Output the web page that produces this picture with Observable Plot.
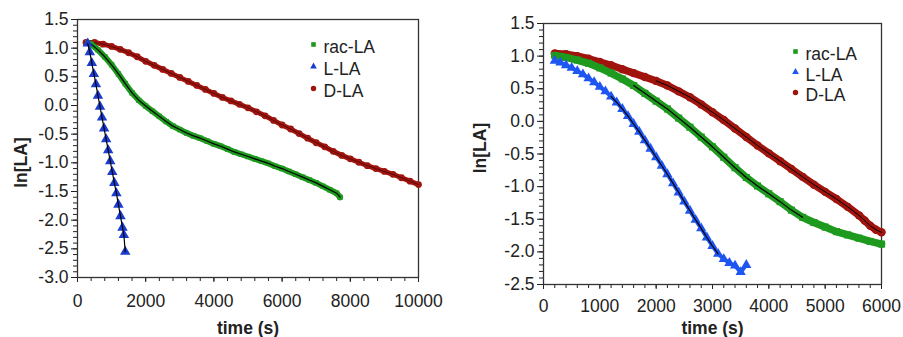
<!DOCTYPE html>
<html><head><meta charset="utf-8">
<script src="https://cdn.jsdelivr.net/npm/d3@7"></script>
<script src="https://cdn.jsdelivr.net/npm/@observablehq/plot@0.6"></script>
<style>
body{margin:0;background:#fff}
#wrap{display:flex;width:903px;height:337px;overflow:hidden}
#wrap svg{display:block;flex:none}
</style>
</head><body><div id="wrap"></div>
<script>
// ---------- Left panel data ----------
const leftRacT = [300,400,600,800,1000,1200,1400,1600,1800,2000,2200,2400,2600,2800,3000,3200,3400,3600,3800,4000,4200,4400,4600,4800,5000,5200,5400,5600,5800,6000,6200,6400,6600,6800,7000,7200,7400,7600,7700];
const leftRacV = [1.09,1.07,0.97,0.85,0.71,0.55,0.38,0.22,0.09,-0.01,-0.10,-0.19,-0.28,-0.36,-0.42,-0.48,-0.53,-0.57,-0.62,-0.67,-0.71,-0.76,-0.81,-0.85,-0.89,-0.93,-0.97,-1.01,-1.06,-1.10,-1.15,-1.20,-1.25,-1.30,-1.35,-1.41,-1.47,-1.53,-1.60];
const leftLT = [300,360,420,480,540,600,660,720,780,840,900,960,1020,1080,1140,1200,1260,1320,1360,1400];
const leftLV = [1.08,0.93,0.74,0.55,0.37,0.17,-0.02,-0.21,-0.40,-0.59,-0.78,-0.97,-1.16,-1.35,-1.53,-1.73,-1.93,-2.13,-2.26,-2.55];
const leftDT = [250,500,750,1000,1250,1500,1750,2000,2250,2500,2750,3000,3250,3500,3750,4000,4250,4500,4750,5000,5250,5500,5750,6000,6250,6500,6750,7000,7250,7500,7750,8000,8250,8500,8750,9000,9250,9500,9750,10000];
const leftDV = [1.10,1.10,1.07,1.03,0.98,0.92,0.85,0.77,0.70,0.63,0.56,0.49,0.42,0.35,0.28,0.21,0.14,0.08,0.02,-0.04,-0.11,-0.18,-0.26,-0.34,-0.41,-0.49,-0.57,-0.65,-0.72,-0.80,-0.87,-0.93,-0.99,-1.05,-1.10,-1.15,-1.20,-1.26,-1.32,-1.38];
const leftFitRac = [400,7700], leftFitL = [300,1400], leftFitD = [250,10000];
const leftXTicks = [0,2000,4000,6000,8000,10000];
const leftYTicks = [-3.0,-2.5,-2.0,-1.5,-1.0,-0.5,0.0,0.5,1.0,1.5];

// ---------- Right panel data ----------
const rightRacT = [200,400,600,800,1000,1200,1400,1600,1800,2000,2200,2400,2600,2800,3000,3200,3400,3600,3800,4000,4200,4400,4600,4800,5000,5200,5400,5600,5800,6000];
const rightRacV = [1.01,0.98,0.94,0.89,0.82,0.74,0.65,0.55,0.43,0.31,0.19,0.05,-0.09,-0.24,-0.39,-0.55,-0.71,-0.86,-0.99,-1.11,-1.23,-1.36,-1.47,-1.55,-1.62,-1.69,-1.74,-1.79,-1.84,-1.88];
const rightLT = [200,300,400,500,600,700,800,900,1000,1100,1200,1300,1400,1500,1600,1700,1800,1900,2000,2100,2200,2300,2400,2500,2600,2700,2800,2900,3000,3100,3200,3300,3400,3500,3600];
const rightLV = [0.93,0.90,0.86,0.82,0.77,0.72,0.66,0.60,0.53,0.46,0.38,0.29,0.19,0.08,-0.04,-0.16,-0.29,-0.42,-0.55,-0.68,-0.81,-0.95,-1.09,-1.23,-1.37,-1.51,-1.64,-1.78,-1.91,-2.03,-2.11,-2.17,-2.21,-2.31,-2.20];
const rightDT = [200,400,600,800,1000,1200,1400,1600,1800,2000,2200,2400,2600,2800,3000,3200,3400,3600,3800,4000,4200,4400,4600,4800,5000,5200,5400,5600,5700,5800,5900,6000];
const rightDV = [1.04,1.03,1.00,0.96,0.91,0.86,0.80,0.74,0.68,0.62,0.55,0.46,0.37,0.26,0.14,0.02,-0.11,-0.24,-0.37,-0.49,-0.61,-0.73,-0.85,-0.97,-1.08,-1.19,-1.31,-1.44,-1.52,-1.60,-1.66,-1.70];
const rightFitRac = [1500,4600], rightFitL = [1200,3100], rightFitD = [2000,6000];
const rightXTicks = [0,1000,2000,3000,4000,5000,6000];
const rightYTicks = [-2.5,-2.0,-1.5,-1.0,-0.5,0.0,0.5,1.0,1.5];

const seriesNames = ["rac-LA","L-LA","D-LA"];

const rows = (T, V) => T.map((t, i) => ({t, v: V[i]}));
const within = (data, r) => data.filter(d => d.t >= r[0] && d.t <= r[1]);

function panel(c) {
  const rac = rows(c.racT, c.racV), L = rows(c.LT, c.LV), D = rows(c.DT, c.DV);
  const font = "'Liberation Sans', Arial, Helvetica, sans-serif";
  const fs = 17.5;
  const marks = [
    Plot.axisY(c.yMinor, {tickSize: 4, tickFormat: () => "", label: null}),
    Plot.axisY(c.yTicks, {tickSize: 6, tickPadding: 3, tickFormat: d => d.toFixed(1), label: null, fontSize: fs}),
    Plot.axisX(c.xMinor, {tickSize: 4, tickFormat: () => "", label: null}),
    Plot.axisX(c.xTicks, {tickSize: 5, tickPadding: c.xPad, tickFormat: d => String(d), label: null, fontSize: fs}),
    Plot.frame({stroke: "#333", strokeWidth: 1.3}),
    // D-LA
    Plot.line(D, {x: "t", y: "v", stroke: c.red, strokeWidth: c.dBand}),
    Plot.dot(D, {x: "t", y: "v", symbol: "circle", fill: c.red, r: c.dR}),
    Plot.line(within(D, c.fitD), {x: "t", y: "v", stroke: "#000", strokeWidth: 1, strokeOpacity: c.dFitOp}),
    // rac-LA
    Plot.line(rac, {x: "t", y: "v", stroke: c.green, strokeWidth: c.gBand}),
    Plot.dot(rac, {x: "t", y: "v", symbol: "square", fill: c.green, r: c.gR}),
    Plot.line(within(rac, c.fitRac), {x: "t", y: "v", stroke: "#000", strokeWidth: 1.2}),
    // L-LA
    ...(c.lBand ? [Plot.line(L, {x: "t", y: "v", stroke: c.blue, strokeWidth: c.lBand})] : []),
    Plot.dot(L, {x: "t", y: "v", symbol: "triangle", fill: c.blue, r: c.lR}),
    Plot.line(within(L, c.fitL), {x: "t", y: "v", stroke: "#000", strokeWidth: 1.2}),
    // axis titles
    Plot.text(["time (s)"], {frameAnchor: "bottom", dy: c.xLabDy, lineAnchor: "middle", textAnchor: "middle", fontWeight: "bold", fontSize: fs}),
    Plot.text(["ln[LA]"], {frameAnchor: "left", dx: c.yLabDx, dy: c.yLabDy, rotate: -90, lineAnchor: "middle", textAnchor: "middle", fontWeight: "bold", fontSize: fs}),
  ];
  // legend
  const syms = ["square", "triangle", "circle"], cols = [c.green, c.blue, c.red], rs = [2.6, 2.5, 2.7];
  seriesNames.forEach((name, i) => {
    marks.push(Plot.dot([name], {frameAnchor: "top-left", dx: c.legX, dy: c.legY + i * c.legStep - 3, symbol: syms[i], fill: cols[i], r: rs[i]}));
    marks.push(Plot.text([name], {frameAnchor: "top-left", dx: c.legX + 10, dy: c.legY + i * c.legStep, textAnchor: "start", lineAnchor: "middle", fontSize: fs, fill: "#222"}));
  });
  return Plot.plot({
    width: c.width, height: 337,
    marginLeft: c.ml, marginRight: c.mr, marginTop: c.mt, marginBottom: c.mb,
    x: {domain: c.xDomain},
    y: {domain: c.yDomain},
    style: {fontFamily: font, fontSize: fs + "px", color: "#222", background: "#fff", overflow: "visible"},
    marks
  });
}

const wrap = document.getElementById("wrap");
wrap.append(panel({
  width: 453, ml: 77, mr: 35, mt: 19, mb: 60,
  xDomain: [0, 10000], yDomain: [-3, 1.5],
  xTicks: leftXTicks, xMinor: d3.range(0, 10001, 400),
  yTicks: leftYTicks, yMinor: d3.range(-30, 16).map(i => i / 10),
  xPad: 12, xLabDy: 51, yLabDx: -56, yLabDy: 14,
  racT: leftRacT, racV: leftRacV, LT: leftLT, LV: leftLV, DT: leftDT, DV: leftDV,
  fitRac: leftFitRac, fitL: leftFitL, fitD: leftFitD,
  green: "#1e9a1e", blue: "#1a3ccf", red: "#a0140d",
  gBand: 6, gR: 3.0, lBand: 0, lR: 3.9, dBand: 5, dR: 3.4, dFitOp: 0.45,
  legX: 236, legY: 28, legStep: 22
}));
wrap.append(panel({
  width: 450, ml: 90, mr: 22, mt: 23, mb: 53,
  xDomain: [0, 6000], yDomain: [-2.5, 1.5],
  xTicks: rightXTicks, xMinor: d3.range(0, 6001, 200),
  yTicks: rightYTicks, yMinor: d3.range(-25, 16).map(i => i / 10),
  xPad: 10, xLabDy: 44, yLabDx: -63, yLabDy: -6,
  racT: rightRacT, racV: rightRacV, LT: rightLT, LV: rightLV, DT: rightDT, DV: rightDV,
  fitRac: rightFitRac, fitL: rightFitL, fitD: rightFitD,
  green: "#1e9a1e", blue: "#1e56f2", red: "#a0140d",
  gBand: 7.5, gR: 4.0, lBand: 4, lR: 3.8, dBand: 7.5, dR: 4.2, dFitOp: 1,
  legX: 252, legY: 31, legStep: 20.5
}));
</script></body></html>
